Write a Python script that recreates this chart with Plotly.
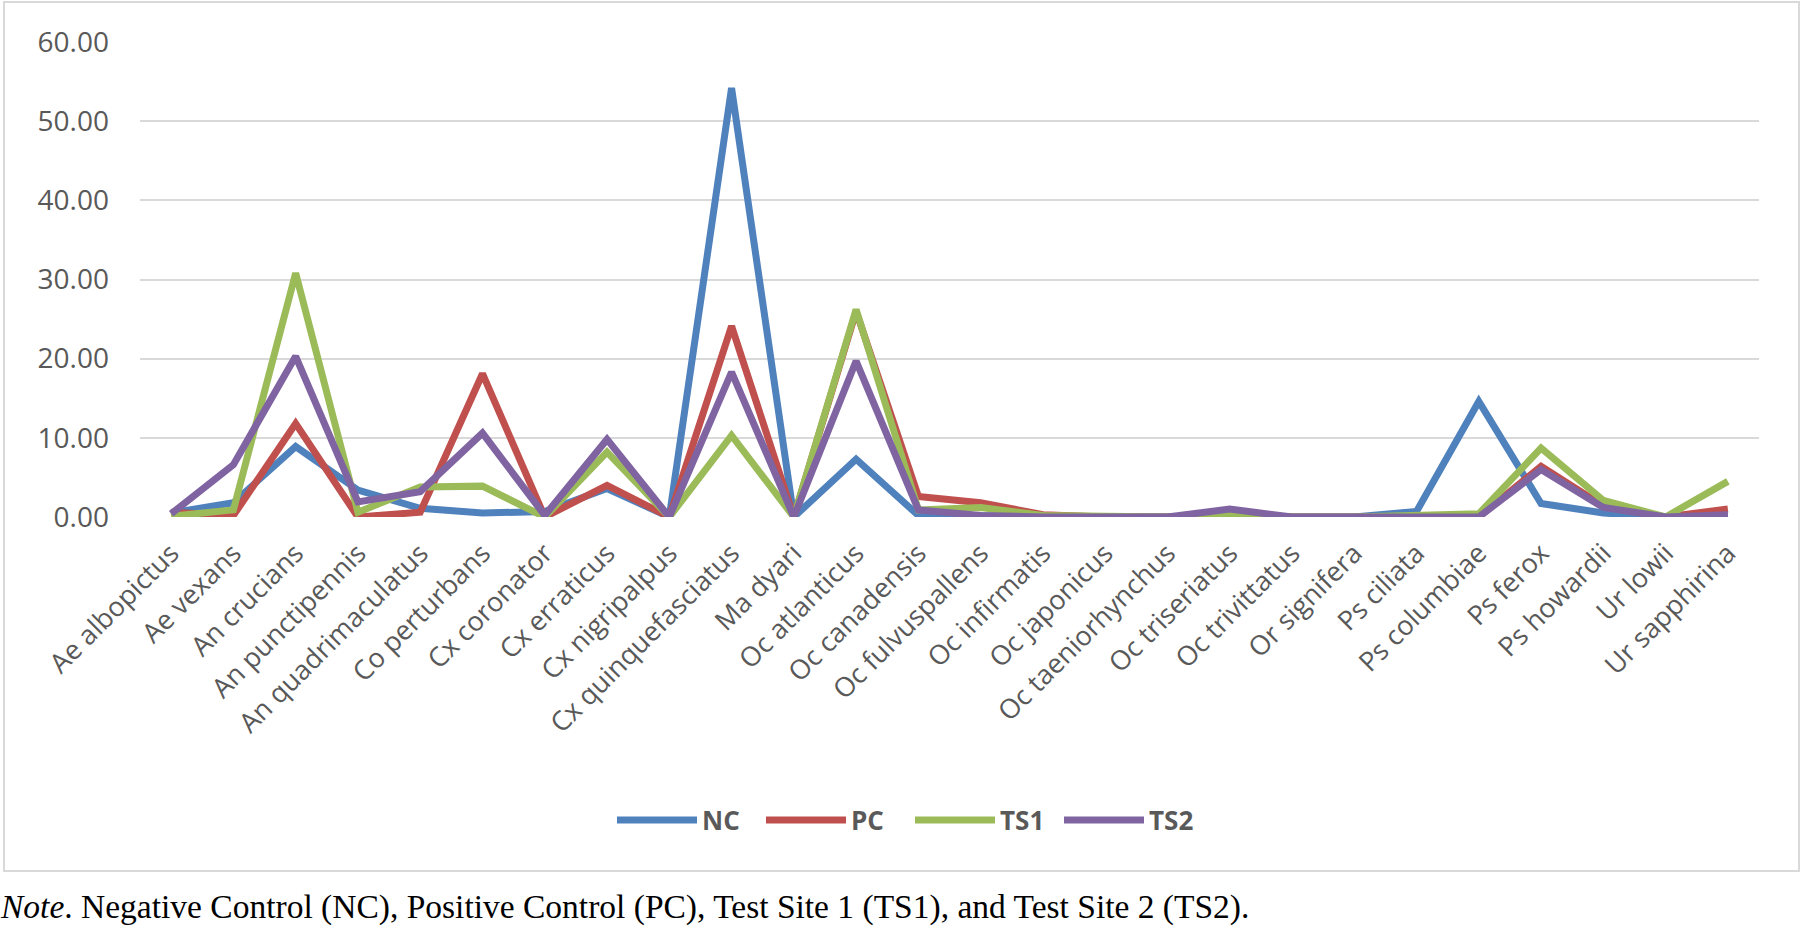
import plotly.graph_objects as go

# mosquito species on the category axis
species = ["Ae albopictus", "Ae vexans", "An crucians", "An punctipennis", "An quadrimaculatus",
           "Co perturbans", "Cx coronator", "Cx erraticus", "Cx nigripalpus", "Cx quinquefasciatus",
           "Ma dyari", "Oc atlanticus", "Oc canadensis", "Oc fulvuspallens", "Oc infirmatis",
           "Oc japonicus", "Oc taeniorhynchus", "Oc triseriatus", "Oc trivittatus", "Or signifera",
           "Ps ciliata", "Ps columbiae", "Ps ferox", "Ps howardii", "Ur lowii", "Ur sapphirina"]

# values
nc = [0.5, 1.8, 8.9, 3.4, 1.1, 0.5, 0.7, 3.6, 0.0, 54.2, 0.0, 7.3, 0.2, 0.1, 0.0,
      0.0, 0.0, 0.0, 0.0, 0.0, 0.7, 14.6, 1.7, 0.5, 0.0, 0.2]
pc = [0.6, 0.2, 11.8, 0.0, 0.6, 18.1, 0.0, 4.0, 0.0, 24.1, 0.0, 26.0, 2.6, 1.8, 0.3,
      0.0, 0.0, 0.0, 0.0, 0.0, 0.0, 0.0, 6.4, 1.4, 0.0, 1.0]
ts1 = [0.1, 0.9, 30.8, 0.6, 3.8, 3.9, 0.0, 8.2, 0.0, 10.3, 0.0, 26.2, 0.9, 1.2, 0.2,
       0.0, 0.0, 0.4, 0.0, 0.0, 0.3, 0.4, 8.7, 2.1, 0.0, 4.5]
ts2 = [0.4, 6.6, 20.3, 1.9, 3.2, 10.6, 0.2, 9.8, 0.0, 18.3, 0.0, 19.7, 0.9, 0.2, 0.0,
       0.0, 0.0, 1.0, 0.0, 0.0, 0.0, 0.0, 6.0, 1.2, 0.0, 0.3]

series_names = ["NC", "PC", "TS1", "TS2"]
series_colors = ["#4F81BD", "#C0504D", "#9BBB59", "#8064A2"]

note_text = ("<i>Note</i>. Negative Control (NC), Positive Control (PC), "
             "Test Site 1 (TS1), and Test Site 2 (TS2).")

W, H = 1803, 927
L, R, T, B = 140, 44, 42, 410
pw = W - L - R
ph = H - T - B


def px2paper_x(px):
    return (px - L) / pw


def px2paper_y(py):
    return (H - B - py) / ph


fig = go.Figure()
for name, vals, col in zip(series_names, [nc, pc, ts1, ts2], series_colors):
    fig.add_trace(go.Scatter(x=species, y=vals, name=name, mode="lines",
                             line=dict(color=col, width=7)))

fig.update_layout(
    width=W, height=H,
    margin=dict(l=L, r=R, t=T, b=B, autoexpand=False),
    plot_bgcolor="white", paper_bgcolor="white",
    font=dict(family="Open Sans", color="#595959"),
    showlegend=True,
    legend=dict(orientation="h", x=px2paper_x(612), xanchor="left",
                y=px2paper_y(820), yanchor="middle",
                font=dict(size=26, color="#595959", weight=700),
                entrywidth=54, itemwidth=80, bgcolor="rgba(0,0,0,0)"),
)

fig.update_xaxes(type="category", tickangle=-45, showgrid=False, showline=False,
                 ticks="", tickfont=dict(size=27, color="#595959"),
                 ticklabelstandoff=14, range=[-0.5, len(species) - 0.5])
fig.update_yaxes(range=[0, 60], dtick=10, tickformat=".2f", showgrid=True,
                 gridcolor="#D9D9D9", gridwidth=2, zeroline=False, showline=False,
                 ticks="", tickfont=dict(size=28, color="#595959"),
                 ticklabelstandoff=30)

# outer chart border
fig.add_shape(type="rect", xref="paper", yref="paper",
              x0=px2paper_x(4), x1=px2paper_x(1799), y0=px2paper_y(871), y1=px2paper_y(2),
              line=dict(color="#D9D9D9", width=2), layer="below")

fig.add_annotation(text=note_text, xref="paper", yref="paper",
                   x=px2paper_x(-2), y=px2paper_y(907), xanchor="left", yanchor="middle",
                   showarrow=False, font=dict(family="Liberation Serif", size=33.5, color="black"))

# page has default body margin; remove it so the figure sits at the window corner
fig.write_html("out.html", config={"displayModeBar": False},
               post_script="document.body.style.margin='0';")
